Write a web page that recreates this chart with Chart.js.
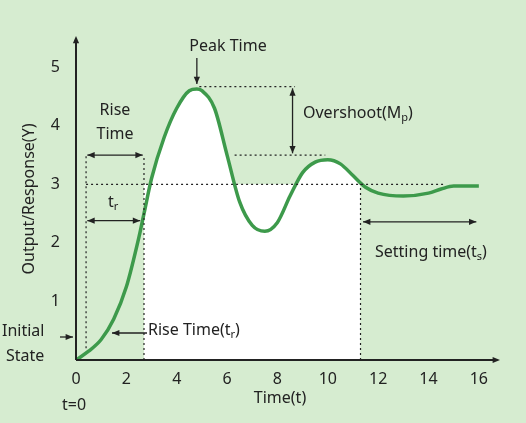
<!DOCTYPE html><html><head><meta charset="utf-8">
<script src="https://cdn.jsdelivr.net/npm/chart.js@4/dist/chart.umd.min.js"></script>
<style>html,body{margin:0;padding:0;background:#d6ecd0}#w{width:526px;height:423px}</style></head>
<body><div id="w"><canvas id="c"></canvas></div>
<script>
const timeT = [0,0.5,1,1.5,2,2.5,2.7,3,3.5,4,4.5,4.8,5,5.5,6,6.5,7,7.5,8,8.5,9,9.5,10,10.5,11,11.5,12,13,14,14.5,15,16];
const response = [0,0.15,0.35,0.7,1.25,2.1,2.5,3.1,3.8,4.3,4.6,4.63,4.6,4.3,3.5,2.7,2.3,2.2,2.35,2.8,3.2,3.38,3.42,3.35,3.15,2.95,2.85,2.8,2.85,2.92,2.97,2.97];
const whiteT = [2.7,2.95,3,3.5,4,4.5,4.8,5,5.5,6,6.3,6.5,7,8,8.7,9,9.5,10,10.5,11,11.3];
const whiteY = [3,3,3.1,3.8,4.3,4.6,4.63,4.6,4.3,3.5,3.0,3,3,3,3,3.2,3.38,3.42,3.35,3.15,3.0];
const xTicks = [0,2,4,6,8,10,12,14,16];
const yTicks = [1,2,3,4,5];
const F = '"Noto Sans", sans-serif';
const ink = '#222';
const ann = {id:'ann', afterDraw(ch){
  const c=ch.ctx, X=v=>ch.scales.x.getPixelForValue(v), Y=v=>ch.scales.y.getPixelForValue(v);
  c.save();
  const dline=(x1,y1,x2,y2)=>{c.setLineDash([2,3]);c.lineWidth=1.2;c.strokeStyle=ink;c.beginPath();c.moveTo(x1,y1);c.lineTo(x2,y2);c.stroke();c.setLineDash([]);};
  const head=(x,y,ang)=>{c.fillStyle=ink;c.beginPath();c.moveTo(x,y);c.lineTo(x-8*Math.cos(ang-0.4),y-8*Math.sin(ang-0.4));c.lineTo(x-8*Math.cos(ang+0.4),y-8*Math.sin(ang+0.4));c.closePath();c.fill();};
  const arrow=(x1,y1,x2,y2,both)=>{c.lineWidth=1.3;c.strokeStyle=ink;c.beginPath();c.moveTo(x1,y1);c.lineTo(x2,y2);c.stroke();const a=Math.atan2(y2-y1,x2-x1);head(x2,y2,a);if(both)head(x1,y1,a+Math.PI);};
  c.strokeStyle=ink;c.lineWidth=2;c.beginPath();c.moveTo(X(0),Y(0));c.lineTo(X(0),Y(5.5)+4);c.moveTo(X(0),Y(0));c.lineTo(X(16.8)-4,Y(0));c.stroke();
  head(X(0),Y(5.5)-2,-Math.PI/2);head(X(16.8)+1,Y(0),0);
  dline(X(0.4),Y(3),X(14.6),Y(3));
  dline(X(0.4),Y(0.2),X(0.4),Y(3.5));dline(X(2.7),Y(0),X(2.7),Y(3.5));dline(X(11.3),Y(0),X(11.3),Y(3));
  dline(X(4.9),Y(4.67),X(8.7),Y(4.67));dline(X(6.3),Y(3.5),X(9.9),Y(3.5));
  arrow(X(0.45),Y(3.5),X(2.65),Y(3.5),true);
  arrow(X(0.45),Y(2.38),X(2.55),Y(2.38),true);
  arrow(X(8.6),Y(4.64),X(8.6),Y(3.53),true);
  arrow(X(11.4),Y(2.36),X(15.9),Y(2.36),true);
  arrow(X(4.8),58,X(4.8),84,false);
  arrow(147,333,112,333,false);
  arrow(60,337,73,337,false);
  c.fillStyle=ink;c.font='16px '+F;c.textBaseline='middle';
  c.textAlign='center';
  c.fillText('Peak Time',228,46);
  c.fillText('Rise',115,110);c.fillText('Time',115,134);
  c.fillText('Time(t)',280,398);c.fillText('t=0',74,405);
  c.textAlign='left';
  const sub=(parts,x,y)=>{for(const [t,s] of parts){c.font=(s?'11px ':'16px ')+F;c.fillText(t,x,y+(s?5:0));x+=c.measureText(t).width;}};
  sub([['t',0],['r',1]],108,202);
  sub([['Overshoot(M',0],['p',1],[')',0]],303,113);
  sub([['Rise Time(t',0],['r',1],[')',0]],148,330);
  sub([['Setting time(t',0],['s',1],[')',0]],375,252);
  c.fillText('Initial',2,331);c.fillText('State',6,356);
  c.restore();
}};
new Chart(document.getElementById('c'),{type:'scatter',
 data:{datasets:[
  {order:2,data:whiteT.map((t,i)=>({x:t,y:whiteY[i]})),showLine:true,fill:'origin',backgroundColor:'#ffffff',borderColor:'rgba(0,0,0,0)',borderWidth:0,pointRadius:0,cubicInterpolationMode:'monotone'},
  {order:1,data:timeT.map((t,i)=>({x:t,y:response[i]})),showLine:true,borderColor:'#3d9a4b',borderWidth:3.5,pointRadius:0,cubicInterpolationMode:'monotone',fill:false}
 ]},
 options:{responsive:true,maintainAspectRatio:false,animation:false,
  layout:{padding:{top:38,right:27,left:0,bottom:0}},
  plugins:{legend:{display:false},tooltip:{enabled:false}},
  scales:{
   x:{type:'linear',min:0,max:16.8,afterFit:s=>{s.height=63},afterBuildTicks:s=>{s.ticks=xTicks.map(v=>({value:v}))},
      grid:{display:false},border:{display:false},ticks:{color:ink,font:{family:F,size:16},padding:2,maxRotation:0}},
   y:{type:'linear',min:0,max:5.5,afterFit:s=>{s.width=76},afterBuildTicks:s=>{s.ticks=yTicks.map(v=>({value:v}))},
      grid:{display:false},border:{display:false},ticks:{color:ink,font:{family:F,size:16},padding:8},
      title:{display:true,text:'Output/Response(Y)',color:ink,font:{family:F,size:16},padding:{top:20,bottom:0}}}
  }},
 plugins:[ann]});
</script></body></html>
